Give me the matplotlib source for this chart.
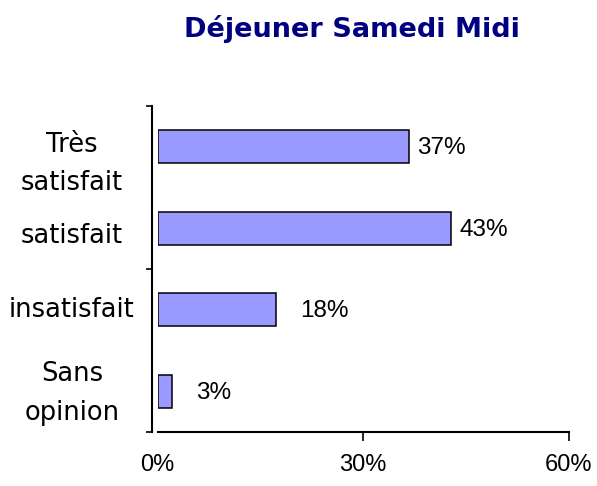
import matplotlib.pyplot as plt

categories = ["Très\nsatisfait", "satisfait", "insatisfait", "Sans\nopinion"]
values = [36.7, 42.8, 17.3, 2.1]
value_labels = ["37%", "43%", "18%", "3%"]
x_ticks = [0, 30, 60]
x_tick_labels = ["0%", "30%", "60%"]

fig = plt.figure(figsize=(5.97, 4.86), dpi=100)
ax = fig.add_axes([157.5 / 597, 1 - 432 / 486, (569 - 157.5) / 597, (432 - 106) / 486])

pos = list(range(len(categories)))
ax.barh(pos, values, height=0.41, color="#9999FF", edgecolor="black", linewidth=1.1)
ax.set_ylim(3.5, -0.5)
ax.set_xlim(0, 60)

# value labels, short bars get a wider gap like in the original
for p, v, lab in zip(pos, values, value_labels):
    pad = 5.8 if v > 30 else 17.5
    ax.annotate(lab, (v, p), xytext=(pad, -1), textcoords="offset points",
                va="center", ha="left", fontsize=17.5, family="Liberation Sans")

# category labels left of the axis; baseline of last line placed as in the original
label_shift = [-31.5, -10.8, -5.0, -20.5]
for p, c, dy in zip(pos, categories, label_shift):
    ax.annotate(c, (-0.2078, p), xycoords=ax.get_yaxis_transform(), xytext=(0, dy),
                textcoords="offset points", ha="center", va="baseline",
                multialignment="center", fontsize=18.5, family="DejaVu Sans", linespacing=1.62)

ax.set_yticks([-0.5, 1.5, 3.5])
ax.set_yticklabels([])
ax.tick_params(axis="y", direction="out", length=4, width=1.2)

ax.set_xticks(x_ticks)
ax.set_xticklabels(x_tick_labels, fontsize=17, family="Liberation Sans")
ax.tick_params(axis="x", direction="out", length=6.5, width=1.2, pad=9)
ax.xaxis.get_major_ticks()[0].tick1line.set_visible(False)

ax.spines["top"].set_visible(False)
ax.spines["right"].set_visible(False)
ax.spines["left"].set_position(("outward", 4))
ax.spines["left"].set_linewidth(1.5)
ax.spines["bottom"].set_linewidth(1.5)

fig.text(352 / 597, 1 - 29 / 486, "Déjeuner Samedi Midi", ha="center", va="center",
         fontsize=19.5, fontweight="bold", color="#000080", family="DejaVu Sans")

fig.savefig("out.png", dpi=100)
